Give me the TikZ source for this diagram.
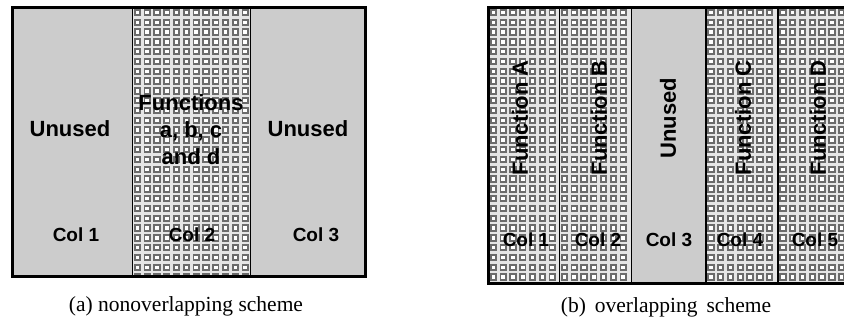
\documentclass[tikz,border=0pt]{standalone}
\usepackage{fontspec}
\setmainfont{Liberation Serif}
\setsansfont{Liberation Sans}
\usetikzlibrary{positioning}

\begin{document}
\begin{tikzpicture}[
      x=1pt,y=-1pt,
      unused/.style={fill=black!20},
      gridbg/.style={fill=black!10},
      gridsq/.style={draw=black!58,fill=white,line width=1.9pt},
      divider/.style={draw=black,line width=1.4pt},
      frame/.style={draw=black,line width=3pt},
      bigtxt/.style={inner sep=0pt,font=\sffamily\bfseries\fontsize{22}{27}\selectfont},
      coltxt/.style={inner sep=0pt,anchor=base,font=\sffamily\bfseries\fontsize{19}{22}\selectfont},
      captxt/.style={inner sep=0pt,anchor=base,font=\fontsize{21.5}{24}\selectfont}
      ]
      \useasboundingbox (0,0) rectangle (844,322);
      \clip (0,0) rectangle (844,322);

      % grey (unused) columns
      \foreach \xa/\xb/\yb in {12.5/132.5/276.5, 250.5/365/276.5, 631.5/706/283.5}
         \fill[unused] (\xa,7.5) rectangle (\xb,\yb);

      % columns holding functions: grid of small squares
      \foreach \xa/\xb/\yb/\n in {% left/right/bottom/last square index
         132.5/250.5/276.5/11,
         488.5/559.5/283.5/6,
         559.5/631.5/283.5/6,
         706/778/283.5/6,
         778/851/283.5/6}
      {
         \begin{scope}
            \clip (\xa,7.5) rectangle (\xb,\yb);
            \fill[gridbg] (\xa,7.5) rectangle (\xb,\yb);
            \foreach \i in {0,...,\n}
               \foreach \j in {0,...,27}
                  \draw[gridsq] (\xa+2.2+\i*9.8,9.8+\j*9.8) rectangle ++(5.4,5.4);
         \end{scope}
      }

      % column borders
      \foreach \xx/\yb in {132.5/276.5, 250.5/276.5, 559.5/283.5, 631.5/283.5, 706/283.5, 778/283.5}
         \draw[divider] (\xx,7.5) -- (\xx,\yb);
      \draw[frame] (12.5,7.5) rectangle (365,276.5);
      \draw[frame] (488.5,7.5) rectangle (851,283.5);

      % (a) nonoverlapping
      \node[bigtxt,anchor=base] (unusedA) at (70,136) {Unused};
      \node[bigtxt,anchor=base] (unusedB) at (308,136) {Unused};
      \node[bigtxt,align=center] (funcs) at (191,130) {Functions\\a, b, c\\and d};
      \node[coltxt] (colA1) at (76,241) {Col 1};
      \node[coltxt] (colA2) at (192,241) {Col 2};
      \node[coltxt] (colA3) at (316,241) {Col 3};
      \node[captxt] (capA) at (186,311) {(a) nonoverlapping scheme};

      % (b) overlapping
      \foreach \nm/\xx/\txt in {fa/520/Function A, fb/599/Function B, unusedC/668/Unused,
                                fc/743/Function C, fd/818/Function D}
         \node[bigtxt,rotate=90] (\nm) at (\xx,118) {\txt};
      \foreach \k/\xx in {1/526, 2/598, 3/669, 4/740, 5/815}
         \node[coltxt] (colB\k) at (\xx,246) {Col \k};
      \node[captxt] (capB) at (666,312) {(b)\, overlapping\, scheme};
\end{tikzpicture}
\end{document}
